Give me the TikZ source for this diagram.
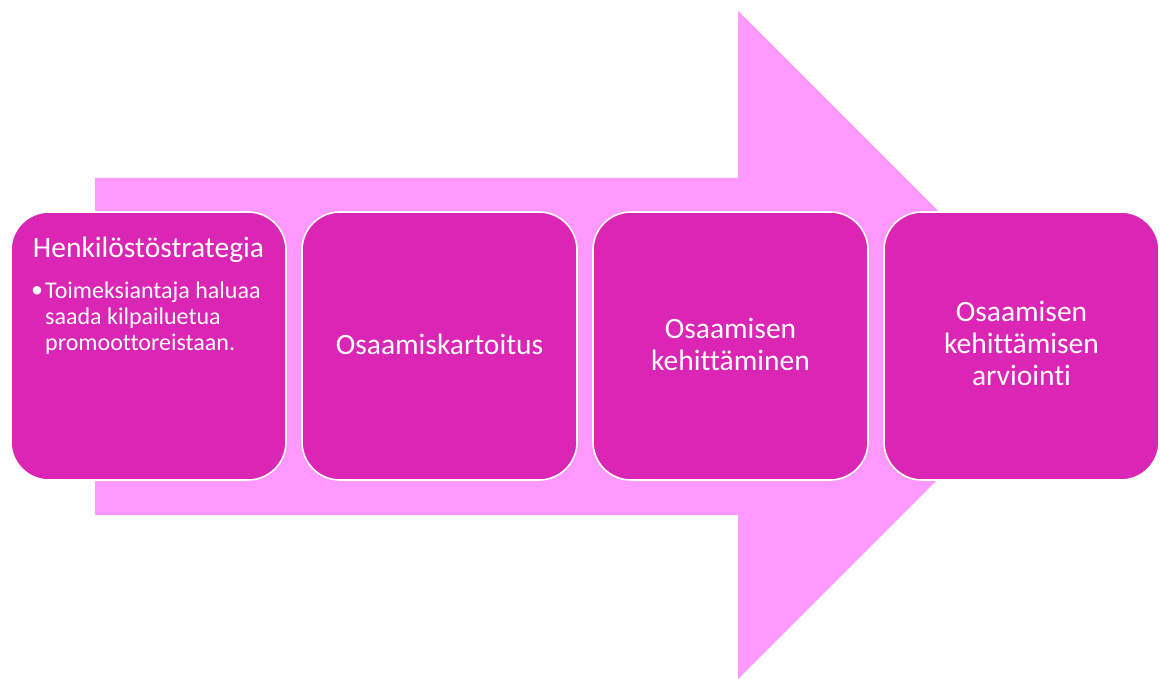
\documentclass[tikz,border=0pt]{standalone}
\usepackage{fontspec}
\setmainfont[Ligatures=NoCommon]{Carlito}
\definecolor{arrowpink}{HTML}{FF99FF}
\definecolor{boxmag}{HTML}{DA25B5}
\tikzset{
  stagebox/.style={draw=white, line width=1.6pt, fill=boxmag, rounded corners=38pt,
    minimum width=275pt, minimum height=268pt, inner sep=0pt},
  bigtext/.style={text=white, align=center, font=\fontsize{29.5}{31.7}\selectfont, inner sep=0pt},
  smalltext/.style={text=white, align=left, font=\fontsize{24}{26}\selectfont, inner sep=0pt}
}
\begin{document}
\begin{tikzpicture}[x=1pt,y=-1pt]
\useasboundingbox (0,0) rectangle (1160,679);
% big arrow
\fill[arrowpink] (95,178) -- (738,178) -- (738,11) -- (1072,345) -- (738,679) -- (738,515) -- (95,515) -- cycle;
% boxes
\node[stagebox] (b1) at (148.5,346) {};
\node[stagebox] (b2) at (439.5,346) {};
\node[stagebox] (b3) at (730.5,346) {};
\node[stagebox] (b4) at (1021.5,346) {};
% texts
\node[bigtext, anchor=base] (t1) at (148.5,258) {Henkilöstöstrategia};
\node[smalltext, anchor=base west] (bul) at (31,298) {•};
\node[smalltext, anchor=base west] (t1b) at (45,350) {Toimeksiantaja haluaa\\saada kilpailuetua\\promoottoreistaan.};
\node[bigtext, anchor=base] (t2) at (439.5,354) {Osaamiskartoitus};
\node[bigtext, anchor=base] (t3) at (730.5,370) {Osaamisen\\kehittäminen};
\node[bigtext, anchor=base] (t4) at (1021.5,385) {Osaamisen\\kehittämisen\\arviointi};
\end{tikzpicture}
\end{document}
